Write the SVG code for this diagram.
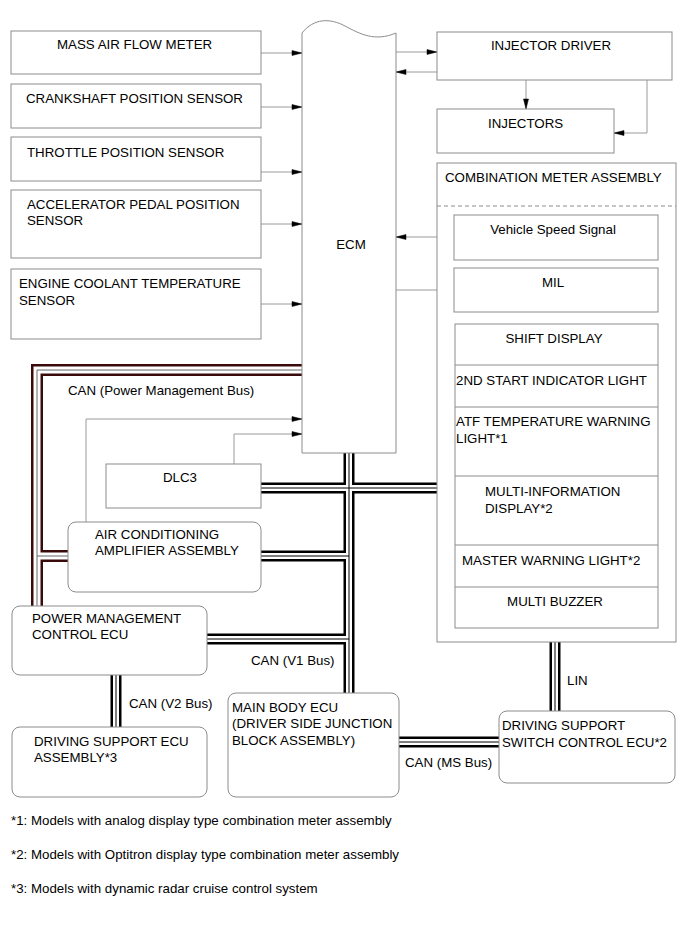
<svg xmlns="http://www.w3.org/2000/svg" xmlns:xlink="http://www.w3.org/1999/xlink" width="691" height="951" viewBox="0 0 691 951">
<style>
text{font-family:"Liberation Sans",Arial,sans-serif;font-size:13.3px;fill:#000}
.c{text-anchor:middle}
.box{fill:#fff;stroke:#8c8c8c;stroke-width:1}
.ln{fill:none;stroke:#9a9a9a;stroke-width:1}
.bo{fill:none;stroke:#000;stroke-width:11}
.bw{fill:none;stroke:#fff;stroke-width:6}
.bc{fill:none;stroke:#000;stroke-width:1}
.po{fill:none;stroke:#3a0a0a;stroke-width:12}
.pw{fill:none;stroke:#fff;stroke-width:7}
.pc{fill:none;stroke:#666;stroke-width:1}
</style>
<defs>
<marker id="ah" viewBox="0 0 10 6" markerWidth="10" markerHeight="6" refX="10" refY="3" orient="auto" markerUnits="userSpaceOnUse" style="overflow:visible"><path d="M0,0.5 L10,3 L0,5.5 Z" style="fill:#000;stroke:#000;stroke-width:0.5"/></marker>
<g id="buses">
<path d="M349,453 V693"/>
<path d="M261,488 H437"/>
<path d="M261,556 H349"/>
<path d="M207,639 H349"/>
<path d="M116,675 V727"/>
<path d="M399,742 H499"/>
<path d="M555,642 V711"/>
</g>
<g id="pmbus">
<path d="M302,370 H37 V606"/>
<path d="M37,556 H68"/>
</g>
</defs>

<g id="connectors">
<use xlink:href="#pmbus" class="po"/>
<use xlink:href="#pmbus" class="pw"/>
<use xlink:href="#pmbus" class="pc"/>
<use xlink:href="#buses" class="bo"/>
<use xlink:href="#buses" class="bw"/>
<use xlink:href="#buses" class="bc"/>
<path class="ln" d="M261,53 H302" marker-end="url(#ah)"/>
<path class="ln" d="M261,107 H302" marker-end="url(#ah)"/>
<path class="ln" d="M261,172 H302" marker-end="url(#ah)"/>
<path class="ln" d="M261,224 H302" marker-end="url(#ah)"/>
<path class="ln" d="M261,304 H302" marker-end="url(#ah)"/>
<path class="ln" d="M396,52 H437" marker-end="url(#ah)"/>
<path class="ln" d="M437,72 H396" marker-end="url(#ah)"/>
<path class="ln" d="M526,80 V109" marker-end="url(#ah)"/>
<path class="ln" d="M647,80 V133 H614" marker-end="url(#ah)"/>
<path class="ln" d="M454,237 H396" marker-end="url(#ah)"/>
<path class="ln" d="M396,290 H454" marker-end="url(#ah)"/>
<path class="ln" d="M86,522 V419 H302" marker-end="url(#ah)"/>
<path class="ln" d="M234,464 V434 H302" marker-end="url(#ah)"/>
</g>

<g id="maf"><rect class="box" x="11" y="31" width="250" height="43"/><text x="57" y="49">MASS AIR FLOW METER</text></g>
<g id="ckp"><rect class="box" x="11" y="84" width="250" height="44"/><text x="26" y="103">CRANKSHAFT POSITION SENSOR</text></g>
<g id="tps"><rect class="box" x="11" y="137" width="250" height="44"/><text x="27" y="157">THROTTLE POSITION SENSOR</text></g>
<g id="apps"><rect class="box" x="11" y="190" width="250" height="68"/><text x="27" y="209">ACCELERATOR PEDAL POSITION</text><text x="27" y="225">SENSOR</text></g>
<g id="ect"><rect class="box" x="11" y="269" width="250" height="70"/><text x="19" y="288">ENGINE COOLANT TEMPERATURE</text><text x="19" y="305">SENSOR</text></g>

<g id="ecm"><path class="box" d="M302,453 V33 C314,18 330,18 345,26 C360,34 375,42 396,33 V453 Z"/><text class="c" x="351" y="249">ECM</text></g>

<g id="injdrv"><rect class="box" x="437" y="32" width="235" height="48"/><text class="c" x="551" y="50">INJECTOR DRIVER</text></g>
<g id="inj"><rect class="box" x="437" y="109" width="177" height="44"/><text x="488" y="128">INJECTORS</text></g>

<g id="combo">
<rect class="box" x="437" y="163" width="239" height="479"/>
<text x="445" y="182">COMBINATION METER ASSEMBLY</text>
<line x1="437" y1="206" x2="676" y2="206" stroke="#8c8c8c" stroke-width="1" stroke-dasharray="4,3"/>
</g>
<g id="vss"><rect class="box" x="454" y="215" width="204" height="45"/><text class="c" x="553" y="234">Vehicle Speed Signal</text></g>
<g id="mil"><rect class="box" x="454" y="268" width="204" height="44"/><text class="c" x="553" y="287">MIL</text></g>
<g id="stack">
<rect class="box" x="455" y="324" width="203" height="304"/>
<line x1="455" y1="365" x2="658" y2="365" stroke="#8c8c8c"/>
<line x1="455" y1="407" x2="658" y2="407" stroke="#8c8c8c"/>
<line x1="455" y1="476" x2="658" y2="476" stroke="#8c8c8c"/>
<line x1="455" y1="545" x2="658" y2="545" stroke="#8c8c8c"/>
<line x1="455" y1="587" x2="658" y2="587" stroke="#8c8c8c"/>
<text class="c" x="554" y="343">SHIFT DISPLAY</text>
<text x="456" y="385">2ND START INDICATOR LIGHT</text>
<text x="456" y="426">ATF TEMPERATURE WARNING</text>
<text x="456" y="443">LIGHT*1</text>
<text x="485" y="496">MULTI-INFORMATION</text>
<text x="485" y="513">DISPLAY*2</text>
<text x="462" y="565">MASTER WARNING LIGHT*2</text>
<text class="c" x="555" y="606">MULTI BUZZER</text>
</g>

<g id="dlc3"><rect class="box" x="106" y="464" width="155" height="44"/><text class="c" x="180" y="482">DLC3</text></g>
<g id="acamp"><rect class="box" x="68" y="522" width="193" height="70" rx="8"/><text x="95" y="539">AIR CONDITIONING</text><text x="95" y="555">AMPLIFIER ASSEMBLY</text></g>
<g id="pmecu"><rect class="box" x="12" y="606" width="195" height="69" rx="8"/><text x="32" y="623">POWER MANAGEMENT</text><text x="32" y="639">CONTROL ECU</text></g>
<g id="dsecu"><rect class="box" x="12" y="727" width="195" height="70" rx="8"/><text x="34" y="746">DRIVING SUPPORT ECU</text><text x="34" y="762">ASSEMBLY*3</text></g>
<g id="mbecu"><rect class="box" x="228" y="693" width="171" height="104" rx="8"/><text x="232" y="712">MAIN BODY ECU</text><text x="232" y="728">(DRIVER SIDE JUNCTION</text><text x="232" y="745">BLOCK ASSEMBLY)</text></g>
<g id="dssecu"><rect class="box" x="499" y="711" width="176" height="72" rx="8"/><text x="502" y="730">DRIVING SUPPORT</text><text x="502" y="747">SWITCH CONTROL ECU*2</text></g>

<g id="labels">
<text x="68" y="395">CAN (Power Management Bus)</text>
<text x="251" y="665">CAN (V1 Bus)</text>
<text x="129" y="708">CAN (V2 Bus)</text>
<text x="405" y="767">CAN (MS Bus)</text>
<text x="567" y="685">LIN</text>
<text x="11" y="825">*1: Models with analog display type combination meter assembly</text>
<text x="11" y="859">*2: Models with Optitron display type combination meter assembly</text>
<text x="11" y="893">*3: Models with dynamic radar cruise control system</text>
</g>
</svg>
